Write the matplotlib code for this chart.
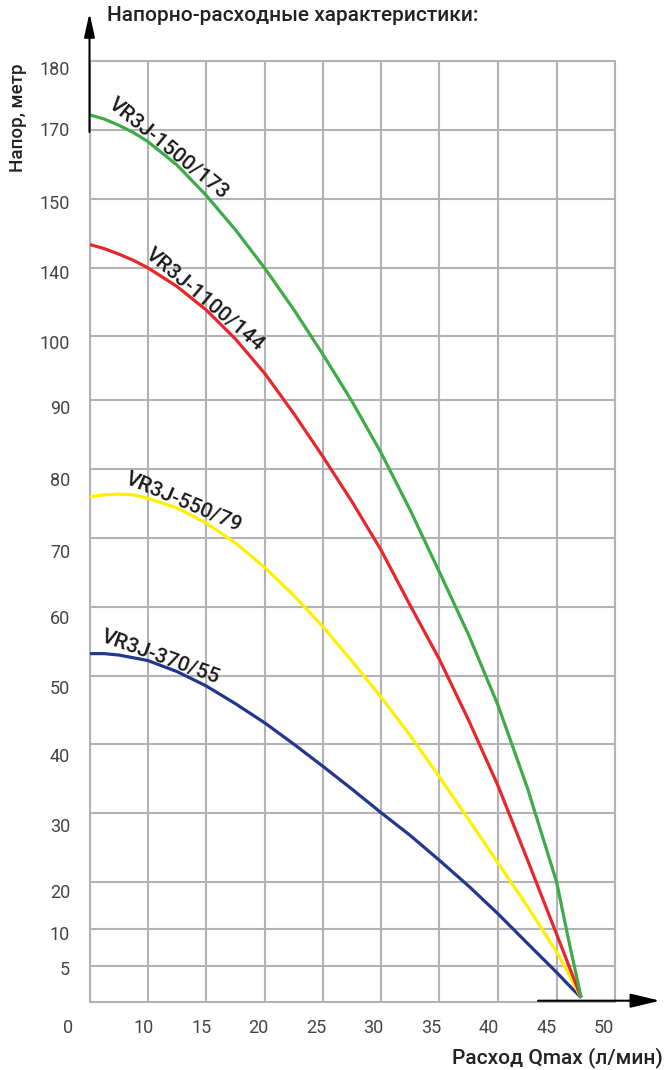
import numpy as np
import matplotlib

matplotlib.use("Agg")

import matplotlib.pyplot as plt
from matplotlib.transforms import ScaledTranslation

plt.rcParams["font.family"] = ["Roboto", "DejaVu Sans"]

# подача, л/мин
flow = [0, 2.5, 5, 7.5, 10, 12.5, 15, 17.5, 20, 22.5, 25, 27.5, 30, 32.5, 35, 37.5,
        40, 42.5, 45, 46, 47.1]

# напор, м
head_1500 = [172.2, 171.6, 170.7, 169.3, 166.7, 159.9, 151.1, 145.5, 139.5, 115.3, 97.1,
             89.8, 82.4, 74.1, 65.1, 55.9, 45.7, 33.7, 20.0, 8.7, 0.6]
head_1100 = [143.4, 142.8, 142.0, 141.1, 140.0, 129.0, 115.2, 99.5, 94.1, 88.0, 81.8,
             75.3, 68.3, 60.2, 52.4, 43.5, 34.0, 23.3, 9.3, 5.2, 0.6]
head_550 = [76.0, 76.3, 76.4, 76.3, 75.8, 74.4, 72.2, 69.3, 65.7, 61.6, 57.1,
            52.1, 46.9, 41.3, 35.3, 29.1, 22.8, 14.9, 6.9, 4.0, 0.6]
head_370 = [53.2, 53.2, 53.0, 52.6, 52.2, 50.6, 48.5, 45.9, 43.1, 40.0, 36.8,
            33.5, 30.1, 26.8, 23.2, 19.2, 13.3, 8.1, 4.1, 2.4, 0.6]

names = ["VR3J-370/55", "VR3J-550/79", "VR3J-1100/144", "VR3J-1500/173"]

x_ticks = [0, 10, 15, 20, 25, 30, 35, 40, 45, 50]
y_ticks = [0, 5, 10, 20, 30, 40, 50, 60, 70, 80, 90, 100, 140, 150, 170, 180]

# the grid on the original sheet is not linear: pixel position of every line
x_grid = [0, 58.2, 116.8, 175.5, 233.5, 291.5, 349.8, 408.5, 467.2, 525.5]
y_grid = [0, 36, 72.7, 119.7, 188.7, 257.7, 326.3, 395.3, 463.7, 532.7,
          602, 666, 734.3, 802.7, 872, 941]

colors = ["#21388c", "#fff000", "#e8262b", "#3dab47"]
grid_color = "#b3b3b7"

fig = plt.figure(figsize=(6.66, 10.70), dpi=100)
ax = fig.add_axes([89.5 / 666, 68 / 1070, 525.5 / 666, 941 / 1070])

ax.set_xscale("function", functions=(lambda v: np.interp(v, x_ticks, x_grid),
                                     lambda p: np.interp(p, x_grid, x_ticks)))
ax.set_yscale("function", functions=(lambda v: np.interp(v, y_ticks, y_grid),
                                     lambda p: np.interp(p, y_grid, y_ticks)))
ax.set_xlim(0, 50)
ax.set_ylim(0, 180)

heads = [head_370, head_550, head_1100, head_1500]
for head, c in zip(heads, colors):
    ax.plot(flow, head, color=c, lw=2.3, solid_capstyle="butt", solid_joinstyle="round",
            zorder=3)

# labels sit on the curves: flow at the middle of the label, slope angle
label_at = [(10.9, 20), (12.8, 23), (14.5, 40), (11.4, 39)]
for name, head, (fx, ang) in zip(names, heads, label_at):
    hy = np.interp(fx, flow, head)
    a = np.radians(ang)
    ax.annotate(name, (fx, hy), xytext=(1.5 * np.sin(a), 1.5 * np.cos(a)),
                textcoords="offset points", rotation=-ang, rotation_mode="anchor",
                ha="center", va="baseline", fontsize=15, fontweight="medium",
                color="#1a1a1a", zorder=4)

ax.set_xticks(x_ticks, [str(v) for v in x_ticks])
ax.set_yticks(y_ticks[1:], [str(v) for v in y_ticks[1:]])
ax.grid(True, color=grid_color, lw=1.5)
ax.set_axisbelow(True)
for s in ax.spines.values():
    s.set_color(grid_color)
    s.set_linewidth(1.5)
ax.tick_params(length=0, labelsize=13, labelcolor="#444444")
ax.tick_params(axis="x", pad=12)
ax.tick_params(axis="y", pad=14)

x_shift = [-21, -4.4, -4.6, -7, -7, -8, -7.6, -9, -10, -11]
y_shift = [2.3, 3.4, 8.4, 11.7, 10.7, 11, 10, 12.4, 9.7, 6.7, 5.7, 4, 2.4, -1, 7]
for lab, dx in zip(ax.get_xticklabels(), x_shift):
    lab.set_transform(lab.get_transform() + ScaledTranslation(dx / 100, 0, fig.dpi_scale_trans))
for lab, dy in zip(ax.get_yticklabels(), y_shift):
    lab.set_transform(lab.get_transform() + ScaledTranslation(0, -dy / 100, fig.dpi_scale_trans))

# axis arrows
ax.annotate("", xy=(89.5, 1057), xytext=(89.5, 938), xycoords="figure pixels",
            arrowprops=dict(arrowstyle="-|>,head_length=1.44,head_width=0.32", color="black",
                            lw=1.5, shrinkA=0, shrinkB=0, mutation_scale=10),
            annotation_clip=False)
ax.annotate("", xy=(660, 69.3), xytext=(538, 69.3), xycoords="figure pixels",
            arrowprops=dict(arrowstyle="-|>,head_length=1.8,head_width=0.43", color="black",
                            lw=1.5, shrinkA=0, shrinkB=0, mutation_scale=10),
            annotation_clip=False)

fig.text(107 / 666, 1 - 15.7 / 1070, "Напорно-расходные характеристики:", fontsize=15,
         fontweight="medium", color="#222222", ha="left", va="center")
fig.text(18 / 666, 1 - 118 / 1070, "Напор, метр", fontsize=13.5, fontweight="medium",
         color="#222222", rotation=90, ha="center", va="center")
fig.text(663 / 666, 1 - 1058 / 1070, "Расход Qmax (л/мин)", fontsize=15,
         fontweight="medium", color="#222222", ha="right", va="center")

fig.savefig("out.png", dpi=100)
